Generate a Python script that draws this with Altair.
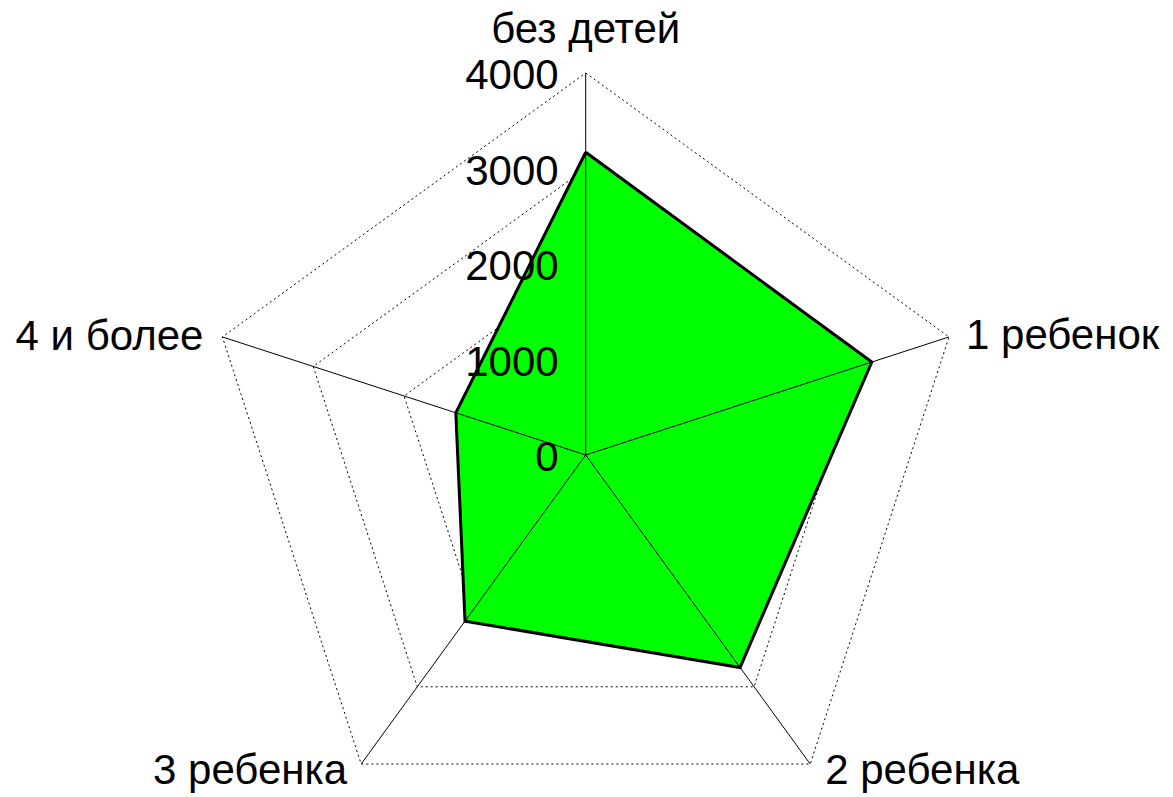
import altair as alt
import pandas as pd

categories = ["без детей", "1 ребенок", "2 ребенка", "3 ребенка", "4 и более"]
values = [3170, 3150, 2750, 2150, 1430]
ticks = [0, 1000, 2000, 3000, 4000]
r_max = 4000

n = len(categories)
W, H = 1157, 785
k = 382 / r_max          # pixels per data unit
cx, cy = 577.7, 447.0    # centre inside the view, px
xdom = [-cx / k, (W - cx) / k]
ydom = [-(H - cy) / k, cy / k]
xs = alt.Scale(domain=xdom, nice=False, zero=False)
ys = alt.Scale(domain=ydom, nice=False, zero=False)
FONT = "Liberation Sans"
FS = 42

ang = f"datum.i * 2 * PI / {n}"

poly_df = pd.DataFrame({
    "i": list(range(n)) + [0],
    "ord": list(range(n + 1)),
    "v": values + [values[0]],
})
rings_rows = []
for t in ticks[1:]:
    for j in range(n + 1):
        rings_rows.append({"t": t, "i": j % n, "ord": j})
rings_df = pd.DataFrame(rings_rows)
cat_df = pd.DataFrame({"i": list(range(n)), "cat": categories, "v": [r_max] * n})
tick_df = pd.DataFrame({"t": ticks, "lab": [str(t) for t in ticks]})

X = alt.X("x:Q", scale=xs, axis=None)
Y = alt.Y("y:Q", scale=ys, axis=None)

rings = alt.Chart(rings_df).transform_calculate(
    x=f"datum.t * sin({ang})", y=f"datum.t * cos({ang})"
).mark_line(color="black", strokeWidth=1, strokeDash=[2, 3]).encode(
    x=X, y=Y, detail="t:N", order="ord:Q"
)

poly = alt.Chart(poly_df).transform_calculate(
    x=f"datum.v * sin({ang})", y=f"datum.v * cos({ang})"
).mark_line(fill="#00ff00", fillOpacity=1, stroke="black", strokeWidth=3,
            strokeJoin="miter").encode(
    x=X, y=Y, order="ord:Q"
)

spokes = alt.Chart(cat_df).transform_calculate(
    x="0", y="0",
    x2=f"datum.v * sin({ang})", y2=f"datum.v * cos({ang})"
).mark_rule(color="black", strokeWidth=1).encode(
    x=X, y=Y, x2="x2:Q", y2="y2:Q"
)

tick_text = alt.Chart(tick_df).transform_calculate(
    x="0", y="datum.t"
).mark_text(align="right", baseline="alphabetic", dx=-27, dy=16,
            font=FONT, fontSize=FS, color="black").encode(
    x=X, y=Y, text="lab:N"
)

label_styles = [
    ("без детей", "center", 0, -30),
    ("1 ребенок", "left", 17, 12),
    ("2 ребенка", "left", 15, 20),
    ("3 ребенка", "right", -14, 20),
    ("4 и более", "right", -19, 13),
]
label_layers = []
for name, al, ddx, ddy in label_styles:
    label_layers.append(
        alt.Chart(cat_df).transform_filter(alt.datum.cat == name).transform_calculate(
            x=f"datum.v * sin({ang})", y=f"datum.v * cos({ang})"
        ).mark_text(align=al, baseline="alphabetic", dx=ddx, dy=ddy,
                    font=FONT, fontSize=FS, color="black").encode(
            x=X, y=Y, text="cat:N"
        )
    )

chart = alt.layer(rings, poly, spokes, tick_text, *label_layers).properties(
    width=W, height=H, autosize=alt.AutoSizeParams(type="none"), padding=0,
    background="white"
).configure_view(stroke=None)

chart.save("out.html", embed_options={"renderer": "svg", "actions": False})
